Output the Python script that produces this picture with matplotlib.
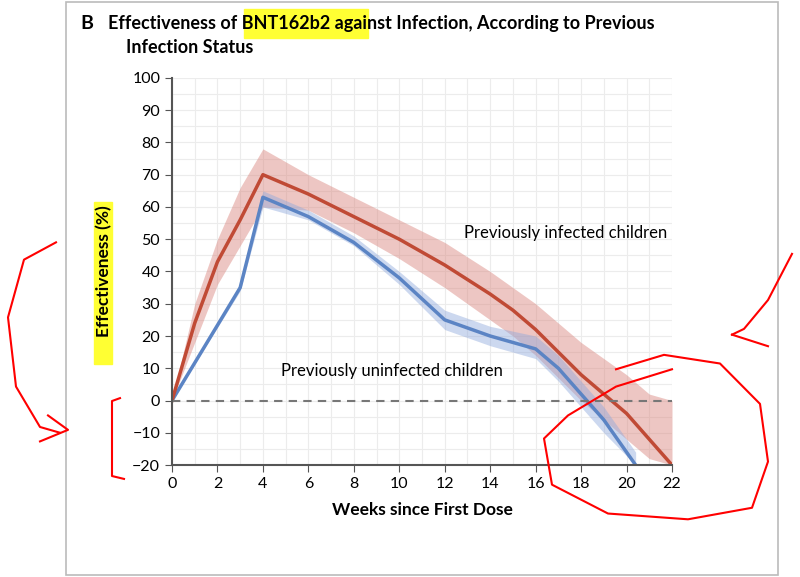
import matplotlib
matplotlib.use("Agg")
import matplotlib.pyplot as plt
from matplotlib.patches import Rectangle

plt.rcParams["font.family"] = ["Lato", "DejaVu Sans"]

# previously infected children
inf_weeks = [0, 1, 2, 3, 4, 6, 8, 10, 12, 14, 15, 16, 17, 18, 19, 20, 21, 22]
inf_eff = [0, 24, 43, 56, 70, 64, 57, 50, 42, 33, 28, 22, 15, 8, 2, -4, -12, -20]
inf_lo = [0, 18, 36, 48, 60, 59, 52, 44, 35, 25, 20, 14, 7, 0, -6, -12, -18, -20]
inf_hi = [0, 30, 50, 66, 78, 70, 63, 56, 49, 40, 35, 30, 24, 18, 13, 8, 2, 0]

# previously uninfected children
uninf_weeks = [0, 3, 4, 6, 8, 10, 12, 14, 16, 17, 18, 19, 20.4]
uninf_eff = [0, 35, 63, 57, 49, 38, 25, 20, 16, 10, 2, -6, -20]
uninf_lo = [0, 34, 60, 56, 48, 36, 22, 17, 13, 6, -2, -10, -20]
uninf_hi = [0, 36, 65, 59, 51, 40, 28, 23, 20, 14, 6, -2, -16]

fig = plt.figure(figsize=(8, 5.77), dpi=100)
ax = fig.add_axes([0.215, 0.194, 0.625, 0.671])

ax.fill_between(inf_weeks, inf_lo, inf_hi, color="#d9827a", alpha=0.45, lw=0)
ax.fill_between(uninf_weeks, uninf_lo, uninf_hi, color="#8fa9dc", alpha=0.45, lw=0)
ax.plot(uninf_weeks, uninf_eff, color="#5b84c4", lw=2.5)
ax.plot(inf_weeks, inf_eff, color="#c04a35", lw=2.5)
ax.axhline(0, color="#777777", ls="--", lw=1.5, dashes=(4, 3))

ax.set_xlim(0, 22)
ax.set_ylim(-20, 100)
ax.set_xticks(range(0, 23, 2))
ax.set_yticks(range(-20, 101, 10))
ax.set_xticks(range(0, 23), minor=True)
ax.set_yticks(range(-20, 101, 5), minor=True)
ax.grid(which="both", color="#ececec", lw=0.8)
ax.set_axisbelow(True)
for s in ["top", "right"]:
    ax.spines[s].set_visible(False)
for s in ["left", "bottom"]:
    ax.spines[s].set_color("#555555")
    ax.spines[s].set_linewidth(1.5)
ax.tick_params(which="major", length=5, color="#555555", labelsize=11.5)
ax.tick_params(which="minor", length=0)
ax.set_xlabel("Weeks since First Dose", fontsize=12.5, fontweight="bold", labelpad=8)
ax.set_ylabel("Effectiveness (%)", fontsize=12.5, fontweight="bold", labelpad=14)

ax.text(21.8, 52, "Previously infected children", ha="right", va="center", fontsize=12)
ax.text(4.8, 9, "Previously uninfected children", ha="left", va="center", fontsize=12)

# highlights
fig.patches.append(Rectangle((0.305, 0.935), 0.155, 0.05, transform=fig.transFigure,
                             color="#ffff33", zorder=-1))
fig.patches.append(Rectangle((0.118, 0.37), 0.022, 0.28, transform=fig.transFigure,
                             color="#ffff33", zorder=-1))

fig.text(0.1, 0.96, "B", fontsize=14, fontweight="bold", va="center")
fig.text(0.135, 0.96, "Effectiveness of BNT162b2 against Infection, According to Previous",
         fontsize=13, fontweight="bold", va="center")
fig.text(0.158, 0.918, "Infection Status", fontsize=13, fontweight="bold", va="center")

# panel frame
fig.patches.append(Rectangle((0.082, 0.003), 0.89, 0.994, transform=fig.transFigure,
                             fill=False, ec="#bbbbbb", lw=1.2))

# red scribbles
red = dict(color="red", lw=1.5, transform=fig.transFigure)
fig.add_artist(plt.Line2D([0.07, 0.03, 0.01, 0.02, 0.05, 0.075],
                          [0.58, 0.55, 0.45, 0.33, 0.26, 0.25], **red))
fig.add_artist(plt.Line2D([0.05, 0.085, 0.06], [0.235, 0.255, 0.28], **red))
fig.add_artist(plt.Line2D([0.15, 0.14, 0.14, 0.14, 0.155],
                          [0.31, 0.305, 0.22, 0.175, 0.17], **red))
fig.add_artist(plt.Line2D([0.99, 0.96, 0.93, 0.915], [0.56, 0.48, 0.43, 0.42], **red))
fig.add_artist(plt.Line2D([0.915, 0.96], [0.42, 0.40], **red))
fig.add_artist(plt.Line2D([0.77, 0.83, 0.9, 0.95, 0.96, 0.94, 0.86, 0.76, 0.69, 0.68, 0.71, 0.77, 0.84],
                          [0.36, 0.385, 0.37, 0.3, 0.2, 0.12, 0.1, 0.11, 0.16, 0.24, 0.28, 0.33, 0.36], **red))

fig.savefig("out.png", dpi=100)
